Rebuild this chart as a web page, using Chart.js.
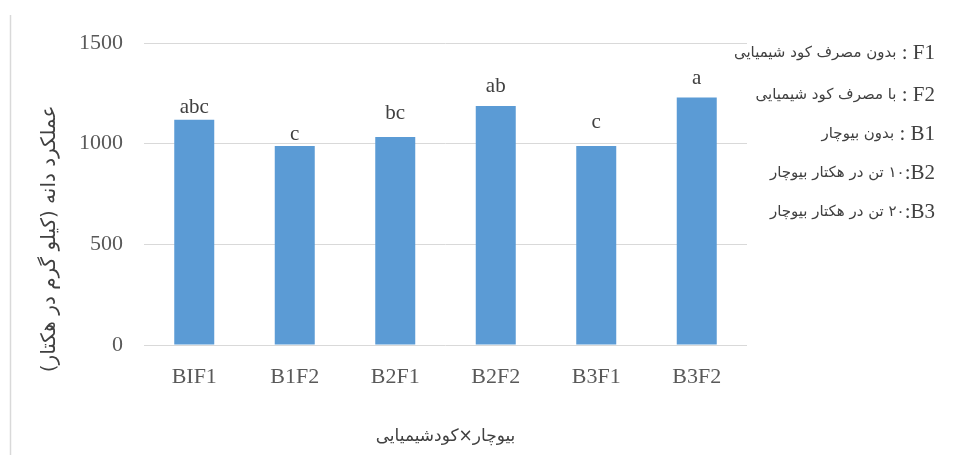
<!DOCTYPE html>
<html>
<head>
<meta charset="utf-8">
<script src="https://cdn.jsdelivr.net/npm/chart.js@4/dist/chart.umd.min.js"></script>
<style>
html,body{margin:0;padding:0;background:#fff;}
canvas{display:block;}
</style>
</head>
<body>
<canvas id="c" width="959" height="455"></canvas>
<script>
// ---- data ----
const categories = ["BIF1", "B1F2", "B2F1", "B2F2", "B3F1", "B3F2"];
const yieldValues = [1119, 988, 1033, 1187, 988, 1229];
const errValues = [0, 0, 58, 35, 60, 35];          // hidden error-bar height (letters sit above it)
const letters = ["abc", "c", "bc", "ab", "c", "a"];
const yTicks = [0, 500, 1000, 1500];
const yTitle = "عملکرد دانه (کیلو گرم در هکتار)";
const xTitle = "بیوچار×کودشیمیایی";
const noteKeys = ["F1", "F2", "B1", "B2", "B3"];
const noteSeps = [" : ", " : ", " : ", ":", ":"];
const noteTexts = ["بدون مصرف کود شیمیایی", "با مصرف کود شیمیایی", "بدون بیوچار", "۱۰ تن در هکتار بیوچار", "۲۰ تن در هکتار بیوچار"];

const SERIF = "'Liberation Serif', 'Times New Roman', serif";
const ARAB = "'DejaVu Sans', sans-serif";

const overlay = {
  id: 'overlay',
  afterDraw(chart) {
    const ctx = chart.ctx;
    const ys = chart.scales.y;
    const meta = chart.getDatasetMeta(0);
    ctx.save();
    // left frame line
    ctx.strokeStyle = '#d9d9d9';
    ctx.lineWidth = 1.5;
    ctx.beginPath();
    ctx.moveTo(10.5, 15);
    ctx.lineTo(10.5, 455);
    ctx.stroke();

    // letters above bars
    ctx.fillStyle = '#404040';
    ctx.font = '21px ' + SERIF;
    ctx.textAlign = 'center';
    ctx.textBaseline = 'middle';
    meta.data.forEach((bar, i) => {
      const y = ys.getPixelForValue(yieldValues[i] + errValues[i]) - 12;
      ctx.fillText(letters[i], bar.x, y);
    });

    // y title
    ctx.save();
    ctx.translate(50, 239);
    ctx.rotate(-Math.PI / 2);
    ctx.font = '20px ' + ARAB;
    ctx.direction = 'rtl';
    ctx.textAlign = 'center';
    ctx.fillStyle = '#404040';
    ctx.fillText(yTitle, 0, 0);
    ctx.restore();

    // x title
    ctx.font = '17px ' + ARAB;
    ctx.direction = 'rtl';
    ctx.textAlign = 'center';
    ctx.fillStyle = '#404040';
    ctx.fillText(xTitle, (chart.chartArea.left + chart.chartArea.right) / 2, 437);

    // notes on the right
    const R = 935;
    const ny = [53, 95, 134, 173, 212];
    noteKeys.forEach((k, i) => {
      ctx.direction = 'ltr';
      ctx.textAlign = 'right';
      ctx.fillStyle = '#404040';
      ctx.font = '21px ' + SERIF;
      const wk = ctx.measureText(k).width;
      ctx.fillText(k, R, ny[i]);
      const sepFull = ctx.measureText(noteSeps[i]).width;
      ctx.fillText(noteSeps[i], R - wk, ny[i]);
      ctx.font = '15px ' + ARAB;
      ctx.direction = 'rtl';
      ctx.textAlign = 'right';
      ctx.fillText(noteTexts[i], R - wk - sepFull, ny[i]);
    });
    ctx.restore();
  }
};

new Chart(document.getElementById('c'), {
  type: 'bar',
  data: {
    labels: categories,
    datasets: [{
      data: yieldValues,
      backgroundColor: '#5b9bd5',
      borderWidth: 0,
      barPercentage: 0.398,
      categoryPercentage: 1.0
    }]
  },
  options: {
    responsive: false,
    devicePixelRatio: 1,
    animation: false,
    layout: { padding: { top: 43, right: 212, left: 0, bottom: 0 } },
    plugins: { legend: { display: false }, tooltip: { enabled: false } },
    scales: {
      x: {
        grid: { display: false, drawTicks: false },
        border: { display: false },
        ticks: { color: '#595959', font: { family: SERIF, size: 22 }, padding: 19, maxRotation: 0 },
        afterFit(s) { s.height = 110; }
      },
      y: {
        min: 0, max: 1500,
        afterBuildTicks(s) { s.ticks = yTicks.map(v => ({ value: v })); },
        grid: { color: '#d9d9d9', lineWidth: 1, drawTicks: false },
        border: { display: false },
        ticks: { color: '#595959', font: { family: SERIF, size: 22 }, padding: 21, callback: v => String(v) },
        afterFit(s) { s.width = 144; }
      }
    }
  },
  plugins: [overlay]
});
</script>
</body>
</html>
